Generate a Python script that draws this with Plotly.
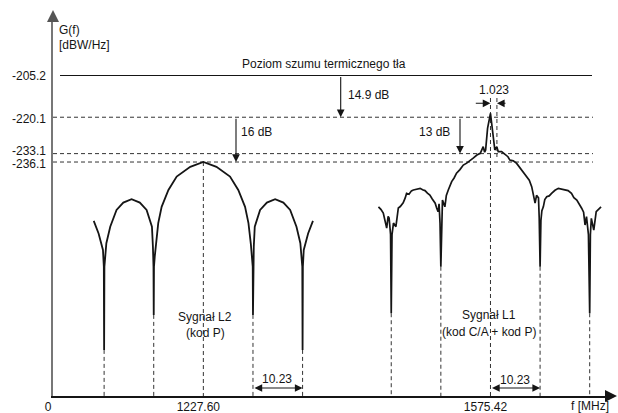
import plotly.graph_objects as go

# ---------------- data ----------------
LEVELS_DB = [-205.2, -220.1, -233.1, -236.1]
LEVEL_LABELS = ["-205.2", "-220.1", "-233.1", "-236.1"]
FREQ_LABELS = ["0", "1227.60", "1575.42"]
P_CHIP_MHZ = 10.23
CA_CHIP_MHZ = 1.023
NULLS_MHZ = [-20.46, -10.23, 10.23, 20.46]

# L2 (P code) spectrum: offset from carrier [MHz], level [dBW/Hz]
L2_OFFSET_MHZ = [
    -22.6, -21.6, -20.7, -20.52, -20.46, -20.40, -20.0, -19.2, -17.9, -16.5,
    -14.8, -13.1, -11.7, -10.6, -10.4, -10.28, -10.23, -10.18, -10.0, -9.8,
    -9.3, -8.6, -7.2, -5.5, -2.7, 0.0,
    2.7, 5.5, 7.2, 8.6, 9.3, 9.8, 10.0, 10.18, 10.23, 10.28,
    10.4, 10.6, 11.7, 13.1, 14.8, 16.5, 17.9, 19.2, 20.0, 20.40,
    20.46, 20.52, 20.7, 21.6, 22.6,
]
L2_DB = [
    -257.1, -261.6, -267.5, -273.5, -303.2, -273.5, -265.1, -259.2, -253.2, -250.6,
    -249.4, -250.6, -253.2, -259.2, -266.3, -273.5, -290.7, -273.5, -269.5, -265.5,
    -257.9, -252.1, -246.1, -241.3, -237.8, -236.1,
    -237.8, -241.3, -246.1, -252.1, -257.9, -265.5, -269.5, -273.5, -290.7, -273.5,
    -266.3, -259.2, -253.2, -250.6, -249.4, -250.6, -253.2, -259.2, -265.1, -273.5,
    -303.2, -273.5, -267.5, -261.6, -257.1,
]

# L1 (C/A + P code) spectrum: offset from carrier [MHz], level [dBW/Hz]
L1_OFFSET_MHZ = [
    -23.1, -22.6, -22.1, -21.7, -21.4, -21.1, -20.9, -20.6, -20.46, -20.3,
    -20.0, -19.5, -19.0, -18.6, -18.0, -17.6, -17.3, -16.8, -16.3, -15.9,
    -15.2, -14.5, -14.0, -13.5, -13.0, -12.5, -12.0, -11.4, -11.1, -10.8,
    -10.6, -10.4, -10.23, -10.05, -9.9, -9.4, -9.1, -8.7, -8.0, -7.5,
    -7.0, -6.3, -5.6, -4.9, -4.2, -3.5, -2.8, -2.1, -1.5, -1.2,
    -1.0, -0.6, 0.0, 0.4, 0.9, 1.3, 1.6, 2.3, 3.0, 3.6,
    4.0, 4.7, 5.4, 6.1, 6.8, 7.5, 8.0, 8.5, 8.9, 9.2,
    9.5, 9.9, 10.05, 10.23, 10.4, 10.6, 10.9, 11.2, 11.6, 12.1,
    12.6, 13.3, 14.0, 14.7, 15.4, 16.0, 16.7, 17.2, 17.8, 18.3,
    18.8, 19.2, 19.5, 19.8, 20.2, 20.46, 20.6, 20.8, 21.3, 21.8,
    22.3, 22.8,
]
L1_DB = [
    -252.1, -253.0, -254.3, -257.5, -259.7, -255.5, -256.1, -262.0, -290.1, -262.0,
    -257.9, -259.2, -252.5, -252.0, -250.7, -249.0, -247.3, -247.6, -246.4, -246.1,
    -245.8, -245.5, -246.0, -246.3, -247.2, -247.9, -249.3, -250.8, -252.5, -253.8,
    -251.0, -258.0, -273.5, -256.0, -249.7, -252.1, -248.0, -246.1, -243.1, -241.8,
    -240.1, -238.8, -237.2, -236.5, -235.4, -234.6, -233.6, -233.0, -230.6, -232.6,
    -231.8, -224.1, -218.7, -224.1, -231.8, -230.6, -232.4, -232.4, -233.2, -234.2,
    -235.4, -235.7, -236.6, -238.3, -239.6, -241.3, -242.6, -244.9, -248.5, -250.8,
    -248.0, -248.9, -256.0, -273.5, -257.0, -253.5, -252.1, -249.5, -248.5, -248.2,
    -247.3, -246.2, -245.5, -245.7, -246.1, -246.3, -247.3, -248.8, -249.7, -251.0,
    -252.6, -254.0, -258.6, -255.6, -262.0, -290.1, -262.0, -256.2, -260.4, -253.8,
    -253.0, -252.1,
]

# ---------------- layout constants (schematic axis) ----------------
W, H = 618, 413
ML, MR, MT, MB = 53, 6, 18, 17
PX_PER_MHZ = 4.85
PX_PER_DB = 2.8
NOISE_PY = 75.5
PW, PH = W - ML - MR, H - MT - MB
X_RANGE = [0, PW / PX_PER_MHZ]
Y_TOP = LEVELS_DB[0] + (NOISE_PY - MT) / PX_PER_DB
Y_BOT = LEVELS_DB[0] - (MT + PH - NOISE_PY) / PX_PER_DB
L2_POS = 31.0   # schematic position of 1227.60 MHz on the broken axis
L1_POS = 90.2   # schematic position of 1575.42 MHz
CA_MARK_SCALE = 1.3   # schematic widening of the 1.023 MHz marker
LABEL_SHIFT_UP_PX = [-0.5, -1.5, 2.5, -1.5]   # keep the two close level labels apart

FONT = "Liberation Sans, Arial, sans-serif"
INK = "#151515"


def px2x(px):
    return (px - ML) / PX_PER_MHZ


def py2y(py):
    return LEVELS_DB[0] - (py - NOISE_PY) / PX_PER_DB


def pxp(px):
    return (px - ML) / PW


def pyp(py):
    return (MT + PH - py) / PH


fig = go.Figure()

l2x = [L2_POS + o for o in L2_OFFSET_MHZ]
l1x = [L1_POS + o for o in L1_OFFSET_MHZ]
fig.add_trace(go.Scatter(x=l2x, y=L2_DB, mode="lines",
                         line=dict(color=INK, width=1.8), hoverinfo="skip"))
fig.add_trace(go.Scatter(x=l1x, y=L1_DB, mode="lines",
                         line=dict(color=INK, width=1.7), hoverinfo="skip"))

shapes = []
DASH = "4px,3px"
# thermal noise floor (solid)
shapes.append(dict(type="line", xref="x", yref="y", x0=px2x(60), x1=px2x(592),
                   y0=LEVELS_DB[0], y1=LEVELS_DB[0],
                   line=dict(color=INK, width=1.2)))
# dashed reference levels
for lv in LEVELS_DB[1:]:
    shapes.append(dict(type="line", xref="x", yref="y", x0=0, x1=px2x(593),
                       y0=lv, y1=lv, line=dict(color="#333", width=1, dash=DASH),
                       layer="below"))


def depth_at(offsets, levels, off):
    return levels[offsets.index(off)]


# dashed verticals at nulls
for pos, offs, lvls in [(L2_POS, L2_OFFSET_MHZ, L2_DB), (L1_POS, L1_OFFSET_MHZ, L1_DB)]:
    for n in NULLS_MHZ:
        shapes.append(dict(type="line", xref="x", yref="y", x0=pos + n, x1=pos + n,
                           y0=depth_at(offs, lvls, n), y1=Y_BOT,
                           line=dict(color="#333", width=1, dash=DASH), layer="below"))
# centre lines
shapes.append(dict(type="line", xref="x", yref="y", x0=L2_POS, x1=L2_POS,
                   y0=LEVELS_DB[3], y1=Y_BOT,
                   line=dict(color="#333", width=1, dash=DASH), layer="below"))
shapes.append(dict(type="line", xref="x", yref="y", x0=L1_POS, x1=L1_POS,
                   y0=py2y(98), y1=Y_BOT,
                   line=dict(color="#333", width=1, dash=DASH), layer="below"))
CA_X = L1_POS + CA_CHIP_MHZ * CA_MARK_SCALE
shapes.append(dict(type="line", xref="x", yref="y", x0=CA_X, x1=CA_X,
                   y0=py2y(98), y1=py2y(157),
                   line=dict(color="#333", width=1, dash=DASH), layer="below"))

ann = []
ARR = dict(arrowhead=2, arrowsize=1.4, arrowwidth=1.1, arrowcolor=INK, standoff=0)


def vdim(x, ytop, ybot):
    d = dict(x=x, y=ybot, ax=x, ay=ytop, xref="x", yref="y", axref="x", ayref="y",
             text="", showarrow=True)
    d.update(ARR)
    ann.append(d)


vdim(px2x(340.7), LEVELS_DB[0], LEVELS_DB[1])
vdim(px2x(236), LEVELS_DB[1], LEVELS_DB[3])
vdim(px2x(460), LEVELS_DB[1], LEVELS_DB[2])

# 1.023 arrows
ya = py2y(103.3)
for tip, tail in [(L1_POS, px2x(474.3)), (CA_X, px2x(507))]:
    d = dict(x=tip, y=ya, ax=tail, ay=ya, xref="x", yref="y", axref="x", ayref="y",
             text="", showarrow=True)
    d.update(ARR)
    ann.append(d)

# 10.23 double arrows
yd = py2y(388)
for a, b in [(L2_POS + P_CHIP_MHZ, L2_POS + 2 * P_CHIP_MHZ), (L1_POS, L1_POS + P_CHIP_MHZ)]:
    d = dict(x=b, y=yd, ax=a, ay=yd, xref="x", yref="y", axref="x", ayref="y",
             text="", showarrow=True, arrowside="end+start")
    d.update(ARR)
    ann.append(d)

# axis arrowheads
ann.append(dict(x=pxp(618), y=0, xref="paper", yref="paper", ax=-12, ay=0,
                text="", showarrow=True, arrowhead=2, arrowsize=1.2, arrowwidth=2,
                arrowcolor=INK, standoff=0))
ann.append(dict(x=0, y=pyp(10), xref="paper", yref="paper", ax=0, ay=12,
                text="", showarrow=True, arrowhead=2, arrowsize=1.2, arrowwidth=2,
                arrowcolor="#555", standoff=0))

# level labels on the y axis (annotations so the two close levels do not collide)
for lv, lab, up in zip(LEVELS_DB, LEVEL_LABELS, LABEL_SHIFT_UP_PX):
    ann.append(dict(x=pxp(47), y=lv, xref="paper", yref="y", text=lab,
                    showarrow=False, xanchor="right", yanchor="middle",
                    yshift=up, borderpad=0,
                    font=dict(family=FONT, size=12, color=INK)))


def text(px, py, s, xanchor="center"):
    ann.append(dict(x=pxp(px), y=pyp(py), xref="paper", yref="paper", text=s,
                    showarrow=False, xanchor=xanchor, yanchor="middle",
                    font=dict(family=FONT, size=12, color=INK)))


text(57, 30, "G(f)", "left")
text(57, 45, "[dBW/Hz]", "left")
text(324, 64, "Poziom szumu termicznego tła")
text(346, 95, f"{14.9} dB", "left")
text(238.5, 131.7, "16 dB", "left")
text(452, 131.7, "13 dB", "right")
text(494, 90, f"{CA_CHIP_MHZ:.3f}")
text(205, 316.7, "Sygnał L2")
text(205, 332.7, "(kod P)")
text(488.5, 315, "Sygnał L1")
text(488.5, 331.7, "(kod C/A + kod P)")
text(276.7, 379.3, f"{P_CHIP_MHZ:.2f}")
text(515, 380, f"{P_CHIP_MHZ:.2f}")
text(590, 406.5, "f [MHz]")

fig.update_layout(
    width=W, height=H,
    margin=dict(l=ML, r=MR, t=MT, b=MB, pad=0, autoexpand=False),
    paper_bgcolor="white", plot_bgcolor="white",
    showlegend=False,
    font=dict(family=FONT, size=12, color=INK),
    shapes=shapes, annotations=ann,
    xaxis=dict(range=X_RANGE, showgrid=False, zeroline=False, showline=True,
               linecolor=INK, linewidth=2, ticks="", automargin=False,
               tickvals=[0, L2_POS, L1_POS], ticktext=FREQ_LABELS,
               ticklabelshift=-5, ticklabelstandoff=-1,
               tickfont=dict(family=FONT, size=12, color=INK), fixedrange=True),
    yaxis=dict(range=[Y_BOT, Y_TOP], showgrid=False, zeroline=False, showline=True,
               linecolor="#777", linewidth=2, ticks="", automargin=False,
               tickvals=LEVELS_DB, showticklabels=False, fixedrange=True),
)

fig.write_html("out.html")
